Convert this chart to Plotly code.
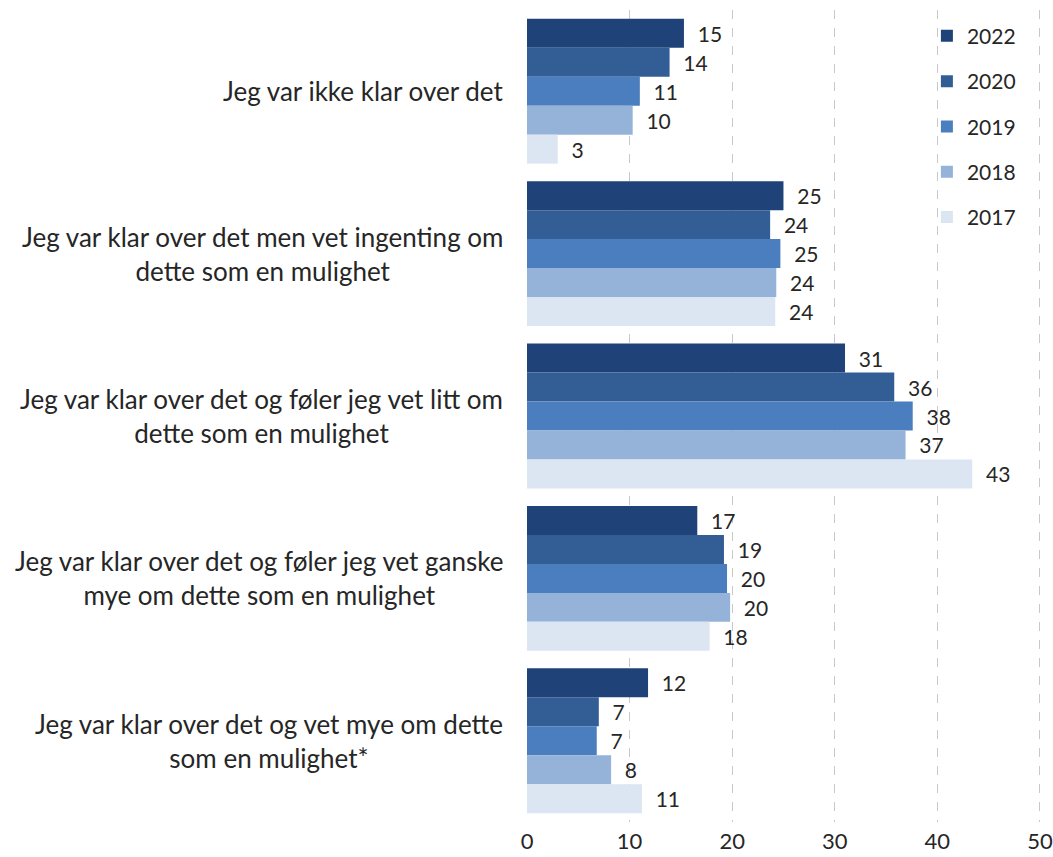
import plotly.graph_objects as go

categories = [
    "Jeg var ikke klar over det",
    "Jeg var klar over det men vet ingenting om<br>dette som en mulighet",
    "Jeg var klar over det og føler jeg vet litt om<br>dette som en mulighet",
    "Jeg var klar over det og føler jeg vet ganske<br>mye om dette som en mulighet",
    "Jeg var klar over det og vet mye om dette<br>som en mulighet*",
]
years = ["2022", "2020", "2019", "2018", "2017"]
v2022 = [15.3, 25.0, 31.0, 16.6, 11.8]
v2020 = [13.9, 23.7, 35.8, 19.2, 7.0]
v2019 = [11.0, 24.7, 37.6, 19.5, 6.8]
v2018 = [10.3, 24.3, 36.9, 19.8, 8.2]
v2017 = [3.0, 24.2, 43.4, 17.8, 11.2]
series = [v2022, v2020, v2019, v2018, v2017]
colors = ["#1f4378", "#335d95", "#4a7ebf", "#95b2d8", "#dce5f2"]
x_ticks = [0, 10, 20, 30, 40, 50]

FONT = "Lato"
TXT = "#262626"

fig = go.Figure()
for yr, vals, col in zip(years, series, colors):
    fig.add_trace(go.Bar(
        y=categories, x=vals, name=yr, orientation="h",
        marker=dict(color=col, line=dict(width=0)),
        text=[f"\u00a0\u00a0{round(v):d}" for v in vals],
        textposition="outside", cliponaxis=False,
        textfont=dict(family=FONT, size=21, color=TXT),
        legendgroup=yr,
    ))

for c in categories:
    fig.add_annotation(
        x=-0.043, xref="paper", y=c, yref="y", text=c, showarrow=False,
        xanchor="right", yanchor="middle", align="center",
        font=dict(family=FONT, size=26, color=TXT),
    )

fig.update_layout(
    width=1053, height=857,
    margin=dict(l=527, r=10, t=9.5, b=34.7),
    paper_bgcolor="white", plot_bgcolor="white",
    barmode="group", bargap=0.108, bargroupgap=0,
    font=dict(family=FONT, size=21, color=TXT),
    xaxis=dict(range=[0, 50.3], tickvals=x_ticks, showgrid=True,
               gridcolor="#c8c8c8", griddash="dash", gridwidth=1,
               zeroline=False, showline=False, ticklabeloverflow="allow",
               ticklabelstandoff=4, automargin=False,
               tickfont=dict(family=FONT, size=22, color=TXT), ticks=""),
    yaxis=dict(autorange="reversed", showticklabels=False, showgrid=False,
               zeroline=False, showline=False, ticks="", automargin=False),
    legend=dict(x=0.775, y=0.993, xanchor="left", yanchor="top",
                bgcolor="rgba(0,0,0,0)", font=dict(family=FONT, size=21, color=TXT),
                tracegroupgap=15, traceorder="grouped"),
    showlegend=True,
)

fig.write_html(
    "out.html",
    config={"displayModeBar": False},
    post_script="document.body.style.margin='0';document.body.style.overflow='hidden';",
)
